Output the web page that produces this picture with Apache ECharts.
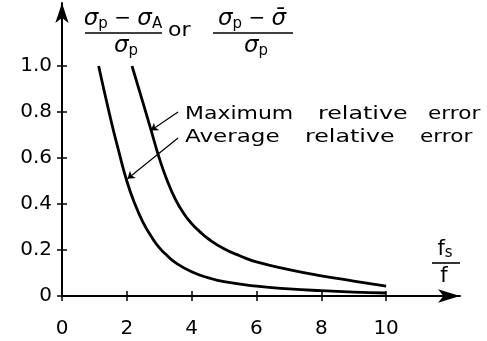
<!DOCTYPE html>
<html>
<head>
<meta charset="utf-8">
<script src="https://cdn.jsdelivr.net/npm/echarts@6/dist/echarts.min.js"></script>
<style>
  html, body { margin: 0; padding: 0; background: #fff; }
  #main { width: 487px; height: 341px; }
</style>
</head>
<body>
<div id="main"></div>
<script>
// average relative error curve
var avgX = [1.13, 1.5, 1.75, 2.0, 2.25, 2.5, 2.75, 3.0, 3.25, 3.5, 4.0, 4.5, 5.0, 6.0, 7.0, 8.0, 9.0, 10.0];
var avgY = [1.0, 0.77, 0.63, 0.50, 0.40, 0.32, 0.26, 0.21, 0.175, 0.145, 0.105, 0.08, 0.062, 0.043, 0.031, 0.023, 0.017, 0.013];
// maximum relative error curve
var maxX = [2.16, 2.5, 2.75, 3.0, 3.25, 3.5, 3.75, 4.0, 4.25, 4.5, 5.0, 5.5, 6.0, 7.0, 8.0, 9.0, 10.0];
var maxY = [1.0, 0.84, 0.72, 0.60, 0.50, 0.42, 0.36, 0.315, 0.28, 0.25, 0.205, 0.174, 0.148, 0.115, 0.088, 0.065, 0.043];
// ticks
var xTicks = [0, 2, 4, 6, 8, 10];
var yTicks = [0, 0.2, 0.4, 0.6, 0.8, 1.0];
var yTickLabels = ['0', '0.2', '0.4', '0.6', '0.8', '1.0'];

var FONT = '"DejaVu Sans"';

function zip(xs, ys) {
  return xs.map(function (x, i) { return [x, ys[i]]; });
}

var chart = echarts.init(document.getElementById('main'));

var sigmaRich = {
  i: { fontFamily: FONT, fontSize: 23, fontStyle: 'italic', lineHeight: 26, color: '#000' },
  n: { fontFamily: FONT, fontSize: 20, lineHeight: 26, color: '#000' },
  s: { fontFamily: FONT, fontSize: 15, lineHeight: 15, verticalAlign: 'bottom', color: '#000' }
};

function txt(x, y, text, sx, size) {
  return {
    type: 'text', x: x, y: y, scaleX: sx || 1, silent: true,
    style: {
      text: text, fill: '#000', font: (size || 18) + 'px ' + FONT,
      textAlign: 'left', textVerticalAlign: 'middle'
    }
  };
}

function richTxt(x, y, text) {
  return {
    type: 'text', x: x, y: y, silent: true,
    style: {
      text: text, rich: sigmaRich, textAlign: 'center', textVerticalAlign: 'middle'
    }
  };
}

function bar(x1, x2, y) {
  return {
    type: 'line', silent: true,
    shape: { x1: x1, y1: y, x2: x2, y2: y },
    style: { stroke: '#000', lineWidth: 1.6 }
  };
}

var option = {
  animation: false,
  grid: { left: 62, right: 27, top: 3, bottom: 45, outerBoundsMode: 'none' },
  xAxis: [{
    type: 'value', min: 0, max: 12.28,
    splitLine: { show: false },
    axisLine: { show: true, symbol: ['none', 'arrow'], symbolSize: [10, 22],
      lineStyle: { color: '#000', width: 2 } },
    axisTick: { show: true, length: 5, customValues: xTicks, lineStyle: { color: '#000', width: 1.5 } },
    axisLabel: { customValues: xTicks, margin: 23, color: '#000', fontSize: 20, fontFamily: FONT }
  }, {
    type: 'value', min: 0, max: 12.28, position: 'bottom',
    splitLine: { show: false },
    axisLine: { show: false },
    axisTick: { show: true, inside: true, length: 5, customValues: xTicks, lineStyle: { color: '#000', width: 1.5 } },
    axisLabel: { show: false }
  }],
  yAxis: [{
    type: 'value', min: 0, max: 1.274,
    splitLine: { show: false },
    axisLine: { show: true, symbol: ['none', 'arrow'], symbolSize: [10, 20],
      lineStyle: { color: '#000', width: 2 } },
    axisTick: { show: true, length: 5, customValues: yTicks, lineStyle: { color: '#000', width: 1.5 } },
    axisLabel: {
      customValues: yTicks, margin: 10, color: '#000', fontSize: 20, fontFamily: FONT,
      formatter: function (v) {
        var i = yTicks.indexOf(Math.round(v * 10) / 10);
        return i >= 0 ? yTickLabels[i] : '';
      }
    }
  }, {
    type: 'value', min: 0, max: 1.274, position: 'left',
    splitLine: { show: false },
    axisLine: { show: false },
    axisTick: { show: true, inside: true, length: 5, customValues: yTicks, lineStyle: { color: '#000', width: 1.5 } },
    axisLabel: { show: false }
  }],
  series: [{
    name: 'Average relative error',
    type: 'line', xAxisIndex: 0, yAxisIndex: 0,
    data: zip(avgX, avgY), smooth: 0.5, symbol: 'none',
    lineStyle: { color: '#000', width: 2.8 },
    markLine: {
      silent: true, symbol: ['none', 'arrow'], symbolSize: 7,
      label: { show: false },
      lineStyle: { color: '#000', width: 1.2, type: 'solid' },
      data: [[{ coord: [3.58, 0.687] }, { coord: [2.02, 0.51] }]]
    }
  }, {
    name: 'Maximum relative error',
    type: 'line', xAxisIndex: 0, yAxisIndex: 0,
    data: zip(maxX, maxY), smooth: 0.5, symbol: 'none',
    lineStyle: { color: '#000', width: 2.8 },
    markLine: {
      silent: true, symbol: ['none', 'arrow'], symbolSize: 7,
      label: { show: false },
      lineStyle: { color: '#000', width: 1.2, type: 'solid' },
      data: [[{ coord: [3.58, 0.8] }, { coord: [2.74, 0.72] }]]
    }
  }],
  graphic: [
    // y-axis title: (σp − σA)/σp or (σp − σ̄)/σp
    richTxt(123, 19, '{i|σ}{s|p}{n| − }{i|σ}{s|A}'),
    bar(85, 162, 33),
    richTxt(126, 46, '{i|σ}{s|p}'),
    txt(168, 31, 'or', 1.1, 20),
    richTxt(252, 19, '{i|σ}{s|p}{n| − }{i|σ\u0304}'),
    bar(213, 293, 33),
    richTxt(256, 46, '{i|σ}{s|p}'),
    // x-axis title fs/f
    {
      type: 'text', x: 445, y: 250, silent: true,
      style: { text: 'f{s|s}', rich: {
        s: { fontFamily: FONT, fontSize: 15, lineHeight: 15, verticalAlign: 'bottom', color: '#000' }
      }, fill: '#000', font: '21px ' + FONT, textAlign: 'center', textVerticalAlign: 'middle' }
    },
    bar(432, 460, 263),
    {
      type: 'text', x: 444, y: 277, silent: true,
      style: { text: 'f', fill: '#000', font: '21px ' + FONT, textAlign: 'center', textVerticalAlign: 'middle' }
    },
    // annotations
    txt(185, 114, 'Maximum', 1.22),
    txt(318, 114, 'relative', 1.32),
    txt(428, 114, 'error', 1.2),
    txt(185, 137, 'Average', 1.28),
    txt(305, 137, 'relative', 1.32),
    txt(420, 137, 'error', 1.2)
  ]
};

chart.setOption(option);
</script>
</body>
</html>
